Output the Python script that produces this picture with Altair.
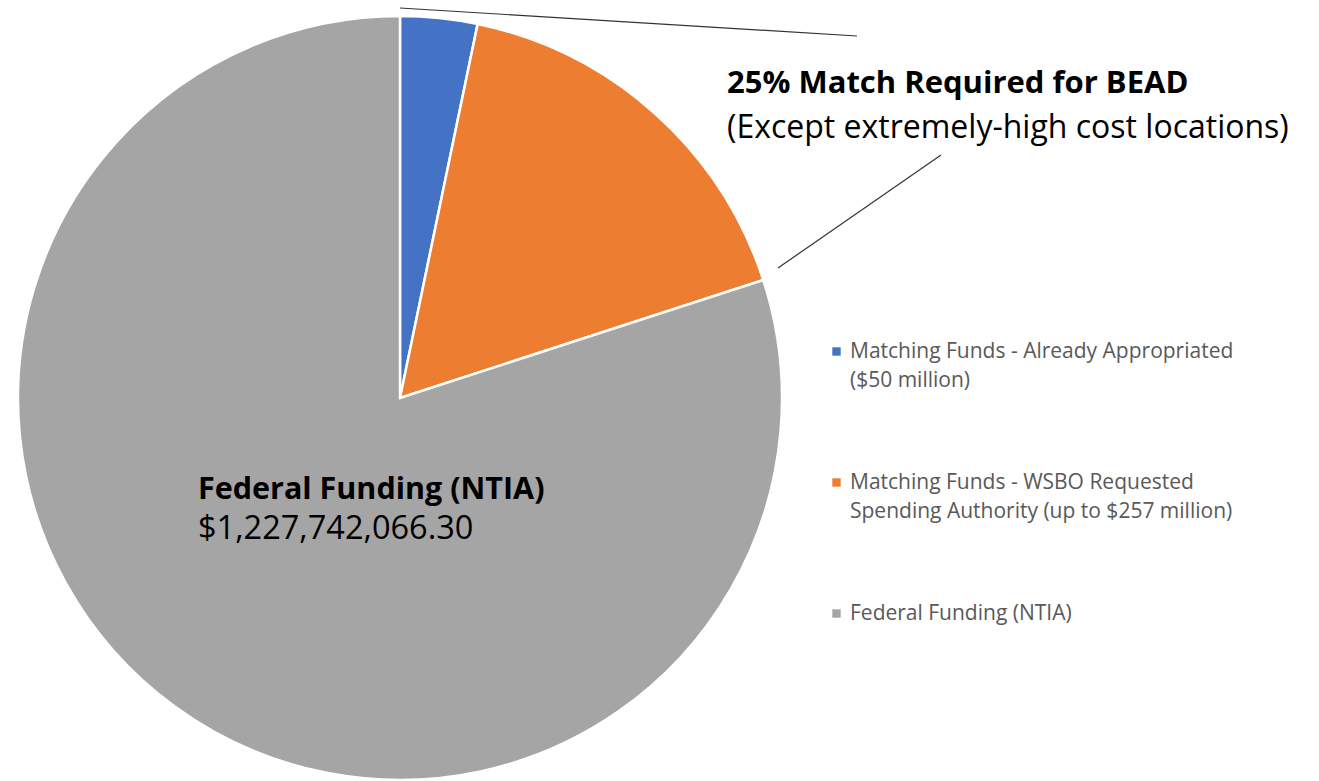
import altair as alt
import pandas as pd

categories = [
    "Matching Funds - Already Appropriated\n($50 million)",
    "Matching Funds - WSBO Requested\nSpending Authority (up to $257 million)",
    "Federal Funding (NTIA)",
]
values = [50.0, 257.0, 1227.7420663]
colors = ["#4472C4", "#ED7D31", "#A5A5A5"]

pie_label_lines = ["Federal Funding (NTIA)", "$1,227,742,066.30"]
pie_label_weights = ["bold", "normal"]

note_lines = ["25% Match Required for BEAD", "(Except extremely-high cost locations)"]
note_weights = ["bold", "normal"]

df = pd.DataFrame({"category": categories, "value": values, "order": [0, 1, 2]})

W, H = 1319, 781
CX, CY, R = 400, 398, 382
FONT = "Open Sans"

pie = alt.Chart(df).mark_arc(outerRadius=R, stroke="white", strokeWidth=2.5).encode(
    theta=alt.Theta("value:Q", stack=True),
    color=alt.Color(
        "category:N",
        scale=alt.Scale(domain=categories, range=colors),
        sort=categories,
        legend=alt.Legend(
            title=None,
            orient="none",
            legendX=826,
            legendY=341,
            symbolType="square",
            symbolSize=70,
            symbolStrokeWidth=0,
            labelFont=FONT,
            labelFontSize=21,
            labelColor="#595959",
            labelLimit=600,
            labelBaseline="middle",
            labelExpr="split(datum.label, '\\n')",
            labelOffset=3,
            rowPadding=80,
        ),
    ),
    order=alt.Order("order:Q"),
    x=alt.value(CX),
    y=alt.value(CY),
)

lbl_df = pd.DataFrame({"t": pie_label_lines, "w": pie_label_weights, "i": [0, 1]})
pie_lbl_bold = alt.Chart(lbl_df[lbl_df.w == "bold"]).mark_text(
    align="left", baseline="middle", font=FONT, fontSize=30.5, fontWeight="bold", color="black"
).encode(text="t:N", x=alt.value(198), y=alt.value(490))
pie_lbl_norm = alt.Chart(lbl_df[lbl_df.w == "normal"]).mark_text(
    align="left", baseline="middle", font=FONT, fontSize=32.5, color="black"
).encode(text="t:N", x=alt.value(198), y=alt.value(529))

note_df = pd.DataFrame({"t": note_lines, "w": note_weights})
note_bold = alt.Chart(note_df[note_df.w == "bold"]).mark_text(
    align="left", baseline="middle", font=FONT, fontSize=31, fontWeight="bold", color="black"
).encode(text="t:N", x=alt.value(727), y=alt.value(84))
note_norm = alt.Chart(note_df[note_df.w == "normal"]).mark_text(
    align="left", baseline="middle", font=FONT, fontSize=32, color="black"
).encode(text="t:N", x=alt.value(727), y=alt.value(128))

line_df = pd.DataFrame({"k": [0]})
lead1 = alt.Chart(line_df).mark_rule(color="#333333", strokeWidth=1.2).encode(
    x=alt.value(400), x2=alt.value(857), y=alt.value(8), y2=alt.value(36)
)
lead2 = alt.Chart(line_df).mark_rule(color="#333333", strokeWidth=1.2).encode(
    x=alt.value(778), x2=alt.value(941), y=alt.value(268), y2=alt.value(155)
)

chart = alt.layer(pie, pie_lbl_bold, pie_lbl_norm, note_bold, note_norm, lead1, lead2).properties(
    width=W, height=H, padding=0, autosize=alt.AutoSizeParams(type="none")
).configure(style={"guide-label": {"lineHeight": 29}}).configure_view(stroke=None)

chart.save("out.html", embed_options={"renderer": "svg", "actions": False})
